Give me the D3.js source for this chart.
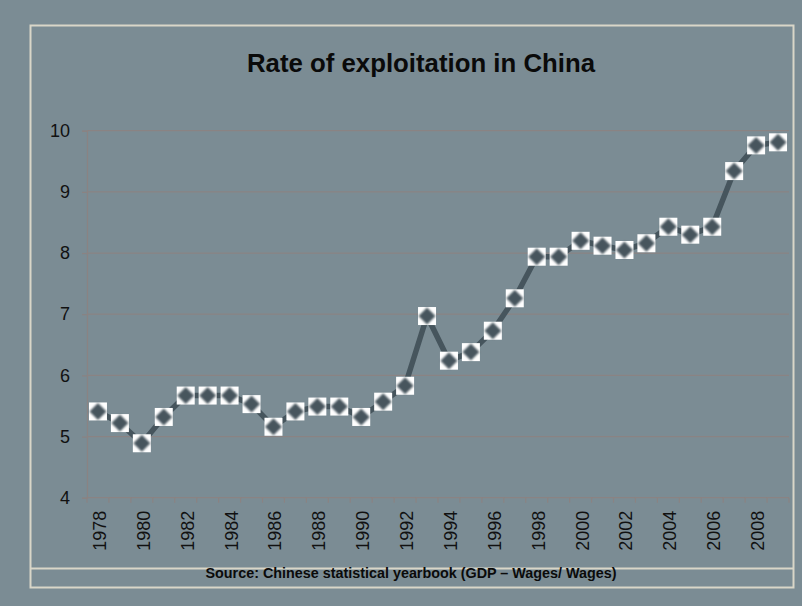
<!DOCTYPE html>
<html>
<head>
<meta charset="utf-8">
<script src="https://cdn.jsdelivr.net/npm/d3@7"></script>
<style>
  html, body { margin: 0; padding: 0; background: #7b8c94; }
  svg { display: block; }
</style>
</head>
<body>
<svg id="chart" width="802" height="606"></svg>
<script>
// Rate of exploitation, (GDP - wages) / wages, by year
const years = d3.range(1978, 2010);
const rates = [
  5.41, 5.22, 4.89, 5.32, 5.67, 5.67, 5.67, 5.53, 5.16, 5.41,
  5.49, 5.49, 5.32, 5.57, 5.83, 6.97, 6.24, 6.38, 6.73, 7.26,
  7.94, 7.94, 8.20, 8.12, 8.05, 8.16, 8.43, 8.30, 8.43, 9.34,
  9.76, 9.81
];
const yTicks = [4, 5, 6, 7, 8, 9, 10];
const xTickLabels = years.filter(y => y % 2 === 0 && y <= 2008);

const titleText = "Rate of exploitation in China";
const sourceText = "Source: Chinese statistical yearbook (GDP \u2013 Wages/ Wages)";

const svg = d3.select("#chart");
const font = "Arial, 'Liberation Sans', sans-serif";
const gridColor = "#8a8383";
const frameColor = "#d9d6c8";
const markColor = "#46555d";

const plot = { left: 87, right: 789, top: 130.7, bottom: 497.7 };

const x = d3.scaleBand().domain(years).range([plot.left, plot.right]).padding(0);
const y = d3.scaleLinear().domain([4, 10]).range([plot.bottom, plot.top]);

// outer frame and the divider above the source note
svg.append("rect")
  .attr("x", 30.5).attr("y", 25.5).attr("width", 763).attr("height", 562)
  .attr("fill", "none").attr("stroke", frameColor).attr("stroke-width", 2);
svg.append("line")
  .attr("x1", 30).attr("x2", 794).attr("y1", 568.5).attr("y2", 568.5)
  .attr("stroke", frameColor).attr("stroke-width", 2);

// title
svg.append("text")
  .attr("x", 421).attr("y", 72)
  .attr("text-anchor", "middle")
  .attr("font-family", font).attr("font-weight", "bold").attr("font-size", 26)
  .attr("fill", "#0a0a0a")
  .attr("textLength", 348).attr("lengthAdjust", "spacingAndGlyphs")
  .text(titleText);

// horizontal gridlines
svg.append("g")
  .selectAll("line")
  .data(yTicks.filter(t => t > 4))
  .join("line")
  .attr("x1", plot.left).attr("x2", plot.right)
  .attr("y1", d => y(d)).attr("y2", d => y(d))
  .attr("stroke", gridColor).attr("stroke-width", 1.2);

// y axis
const yAxis = svg.append("g")
  .attr("transform", `translate(${plot.left},0)`)
  .call(d3.axisLeft(y).tickValues(yTicks).tickSize(5).tickPadding(12).tickFormat(d3.format("d")));
yAxis.select(".domain").attr("stroke", gridColor).attr("stroke-width", 1.2);
yAxis.selectAll(".tick line").attr("stroke", gridColor).attr("stroke-width", 1.2);
yAxis.selectAll(".tick text")
  .attr("font-family", font).attr("font-size", 18).attr("fill", "#111");

// x axis: ticks between categories, labels every other year
const xAxisG = svg.append("g").attr("transform", `translate(0,${plot.bottom})`);
xAxisG.append("line")
  .attr("x1", plot.left).attr("x2", plot.right)
  .attr("stroke", gridColor).attr("stroke-width", 1.2);
xAxisG.selectAll("line.tick")
  .data(years.concat([years[years.length - 1] + 1]))
  .join("line")
  .attr("class", "tick")
  .attr("x1", (d, i) => plot.left + i * x.bandwidth())
  .attr("x2", (d, i) => plot.left + i * x.bandwidth())
  .attr("y1", 0).attr("y2", 5)
  .attr("stroke", gridColor).attr("stroke-width", 1.2);
xAxisG.selectAll("text")
  .data(xTickLabels)
  .join("text")
  .attr("transform", d => `translate(${x(d) + x.bandwidth() / 2 + 8},13) rotate(-90)`)
  .attr("text-anchor", "end")
  .attr("font-family", font).attr("font-size", 18).attr("fill", "#111")
  .text(d => d);

// series line
const line = d3.line()
  .x((d, i) => x(years[i]) + x.bandwidth() / 2)
  .y(d => y(d));
svg.append("path")
  .datum(rates)
  .attr("d", line)
  .attr("fill", "none")
  .attr("stroke", markColor)
  .attr("stroke-width", 5.5)
  .attr("stroke-linejoin", "round");

// markers: white square with a soft dark diamond
const defs = svg.append("defs");
defs.append("filter").attr("id", "soft")
  .append("feGaussianBlur").attr("stdDeviation", 0.9);

const markers = svg.append("g")
  .selectAll("g")
  .data(rates)
  .join("g")
  .attr("transform", (d, i) => `translate(${x(years[i]) + x.bandwidth() / 2},${y(d)})`);
markers.append("rect")
  .attr("x", -9).attr("y", -9).attr("width", 18).attr("height", 18)
  .attr("fill", "#ffffff");
markers.append("path")
  .attr("d", "M0,-8.5L8.5,0L0,8.5L-8.5,0Z")
  .attr("fill", markColor)
  .attr("filter", "url(#soft)");

// source note
svg.append("text")
  .attr("x", 411).attr("y", 578)
  .attr("text-anchor", "middle")
  .attr("font-family", font).attr("font-weight", "bold").attr("font-size", 14.5)
  .attr("fill", "#0a0a0a")
  .attr("textLength", 411).attr("lengthAdjust", "spacingAndGlyphs")
  .text(sourceText);
</script>
</body>
</html>
